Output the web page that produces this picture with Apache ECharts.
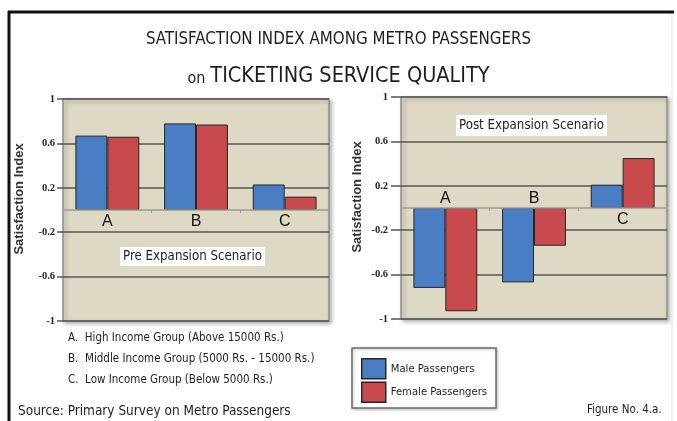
<!DOCTYPE html>
<html>
<head>
<meta charset="utf-8">
<script src="https://cdn.jsdelivr.net/npm/echarts@6/dist/echarts.min.js"></script>
<style>
  html, body { margin: 0; padding: 0; background: #ffffff; }
  #chart { width: 677px; height: 421px; }
</style>
</head>
<body>
<div id="chart"></div>
<script>
// Income groups on the category axis
const categories = ['A', 'B', 'C'];

// Satisfaction index before the metro expansion
const preMale = [0.67, 0.78, 0.23];
const preFemale = [0.66, 0.77, 0.12];

// Satisfaction index after the metro expansion
const postMale = [-0.72, -0.67, 0.21];
const postFemale = [-0.93, -0.34, 0.45];

// Value axis range and step
const axisMin = -1;
const axisMax = 1;
const axisStep = 0.4;

const seriesNames = ['Male Passengers', 'Female Passengers'];
const groupNotes = [
  'A.  High Income Group (Above 15000 Rs.)',
  'B.  Middle Income Group (5000 Rs. - 15000 Rs.)',
  'C.  Low Income Group (Below 5000 Rs.)'
];
const sourceNote = 'Source: Primary Survey on Metro Passengers';
const figureNote = 'Figure No. 4.a.';

const NARROW = '"Liberation Sans Narrow", "DejaVu Sans Condensed", sans-serif';
const BLUE = '#4a7ec4';
const RED = '#c94a4d';
const PLOT_BG = '#ddd9c4';

const PLOT_H = 222;
const ZERO_SHIFT = -PLOT_H / 2;   // lifts the category axis onto the zero line

const chart = echarts.init(document.getElementById('chart'), null, { renderer: 'canvas' });

function gridBox(left, top) {
  return {
    left: left, top: top, width: 266, height: PLOT_H,
    show: true,
    backgroundColor: PLOT_BG,
    borderColor: '#8f8f8f',
    borderWidth: 1.5,
    shadowBlur: 4,
    shadowColor: 'rgba(0,0,0,0.3)',
    shadowOffsetX: 2,
    shadowOffsetY: 2
  };
}

function valueAxis(gridIndex, tickLen, labelMargin) {
  return {
    type: 'value',
    gridIndex: gridIndex,
    min: axisMin,
    max: axisMax,
    interval: axisStep,
    name: 'Satisfaction Index',
    nameLocation: 'middle',
    nameGap: 37,
    nameTextStyle: {
      fontFamily: '"Liberation Sans", Arial, sans-serif',
      fontWeight: 'bold',
      fontSize: 13,
      color: '#333',
      padding: [0, 0, 0, 22]
    },
    axisLine: { show: false },
    axisTick: { show: true, length: tickLen, lineStyle: { color: '#555', width: 1.5 } },
    axisLabel: {
      margin: labelMargin,
      fontFamily: '"Liberation Serif", "DejaVu Serif", serif',
      fontWeight: 'bold',
      fontSize: 10.5,
      color: '#222'
    },
    splitLine: { show: true, lineStyle: { color: '#555', width: 1.5 } }
  };
}

// Category labels sit below the zero line, or above it where the bars hang down
function categoryAxis(gridIndex, aboveSet) {
  return {
    type: 'category',
    gridIndex: gridIndex,
    offset: ZERO_SHIFT,
    data: categories.map(function (c) {
      if (aboveSet.indexOf(c) >= 0) {
        return { value: c, textStyle: { verticalAlign: 'bottom', padding: [0, 0, 5, 0] } };
      }
      return { value: c, textStyle: { verticalAlign: 'top' } };
    }),
    axisLine: { onZero: false, lineStyle: { color: '#9a9a9a', width: 1.5 } },
    axisTick: { show: true, length: 3, lineStyle: { color: '#9a9a9a' } },
    axisLabel: {
      margin: 4,
      fontFamily: '"Liberation Sans", Arial, sans-serif',
      fontSize: 16,
      color: '#111'
    },
    splitLine: { show: false },
    z: 3
  };
}

function barSeries(name, data, color, axisIdx) {
  return {
    type: 'bar',
    name: name,
    xAxisIndex: axisIdx,
    yAxisIndex: axisIdx,
    data: data,
    barGap: '0%',
    barCategoryGap: '28%',
    itemStyle: { color: color, borderColor: '#262626', borderWidth: 1 },
    z: 2
  };
}

const noteText = function (text, x, y, size) {
  return {
    type: 'text',
    style: { text: text, x: x, y: y, verticalAlign: 'middle', font: size + 'px ' + NARROW, fill: '#1e1e1e' }
  };
};

chart.setOption({
  animation: false,
  backgroundColor: '#ffffff',
  title: [
    {
      text: 'SATISFACTION INDEX AMONG METRO PASSENGERS',
      left: 'center', top: 26,
      textStyle: { fontFamily: NARROW, fontSize: 16.8, fontWeight: 'normal', color: '#1e1e1e' }
    },
    {
      text: '{s|on} {b|TICKETING SERVICE QUALITY}',
      left: 'center', top: 60,
      textStyle: {
        fontWeight: 'normal',
        rich: {
          s: { fontFamily: NARROW, fontSize: 16, fontWeight: 'normal', color: '#1e1e1e', verticalAlign: 'bottom' },
          b: { fontFamily: NARROW, fontSize: 21.5, fontWeight: 'normal', color: '#1e1e1e' }
        }
      }
    },
    {
      text: 'Pre Expansion Scenario',
      left: 120, top: 247,
      backgroundColor: '#ffffff',
      padding: [3, 3, 3, 3],
      textStyle: { fontFamily: NARROW, fontSize: 13.2, fontWeight: 'normal', color: '#1e1e1e' }
    },
    {
      text: 'Post Expansion Scenario',
      left: 456, top: 115,
      backgroundColor: '#ffffff',
      padding: [4, 3, 4, 3],
      textStyle: { fontFamily: NARROW, fontSize: 13.2, fontWeight: 'normal', color: '#1e1e1e' }
    }
  ],
  legend: {
    data: seriesNames,
    orient: 'vertical',
    left: 352, top: 348,
    padding: [10, 9, 5, 9],
    icon: 'rect',
    itemWidth: 24,
    itemHeight: 20,
    itemGap: 2,
    itemStyle: { borderColor: '#262626', borderWidth: 1.5 },
    borderColor: '#6b6b6b',
    borderWidth: 1.5,
    backgroundColor: '#ffffff',
    shadowBlur: 3,
    shadowColor: 'rgba(0,0,0,0.25)',
    shadowOffsetX: 1,
    shadowOffsetY: 1,
    textStyle: { fontFamily: NARROW, fontSize: 11.2, color: '#1e1e1e' }
  },
  grid: [gridBox(63, 99), gridBox(401, 97)],
  xAxis: [categoryAxis(0, []), categoryAxis(1, ['A', 'B'])],
  yAxis: [valueAxis(0, 6, 8), valueAxis(1, 10, 13)],
  series: [
    barSeries(seriesNames[0], preMale, BLUE, 0),
    barSeries(seriesNames[1], preFemale, RED, 0),
    barSeries(seriesNames[0], postMale, BLUE, 1),
    barSeries(seriesNames[1], postFemale, RED, 1)
  ],
  graphic: [
    // page frame: top and left rules
    { type: 'line', shape: { x1: 8, y1: 12, x2: 674, y2: 12 }, style: { stroke: '#111', lineWidth: 3 } },
    { type: 'line', shape: { x1: 9, y1: 11, x2: 9, y2: 421 }, style: { stroke: '#111', lineWidth: 3 } },
    { type: 'line', shape: { x1: 672, y1: 14, x2: 672, y2: 421 }, style: { stroke: '#e4e4e4', lineWidth: 1 } },
    noteText(groupNotes[0], 68, 338, 11.5),
    noteText(groupNotes[1], 68, 359, 11.5),
    noteText(groupNotes[2], 68, 380, 11.5),
    noteText(sourceNote, 18, 411, 13.5),
    noteText(figureNote, 587, 410, 11.5)
  ]
});
</script>
</body>
</html>
